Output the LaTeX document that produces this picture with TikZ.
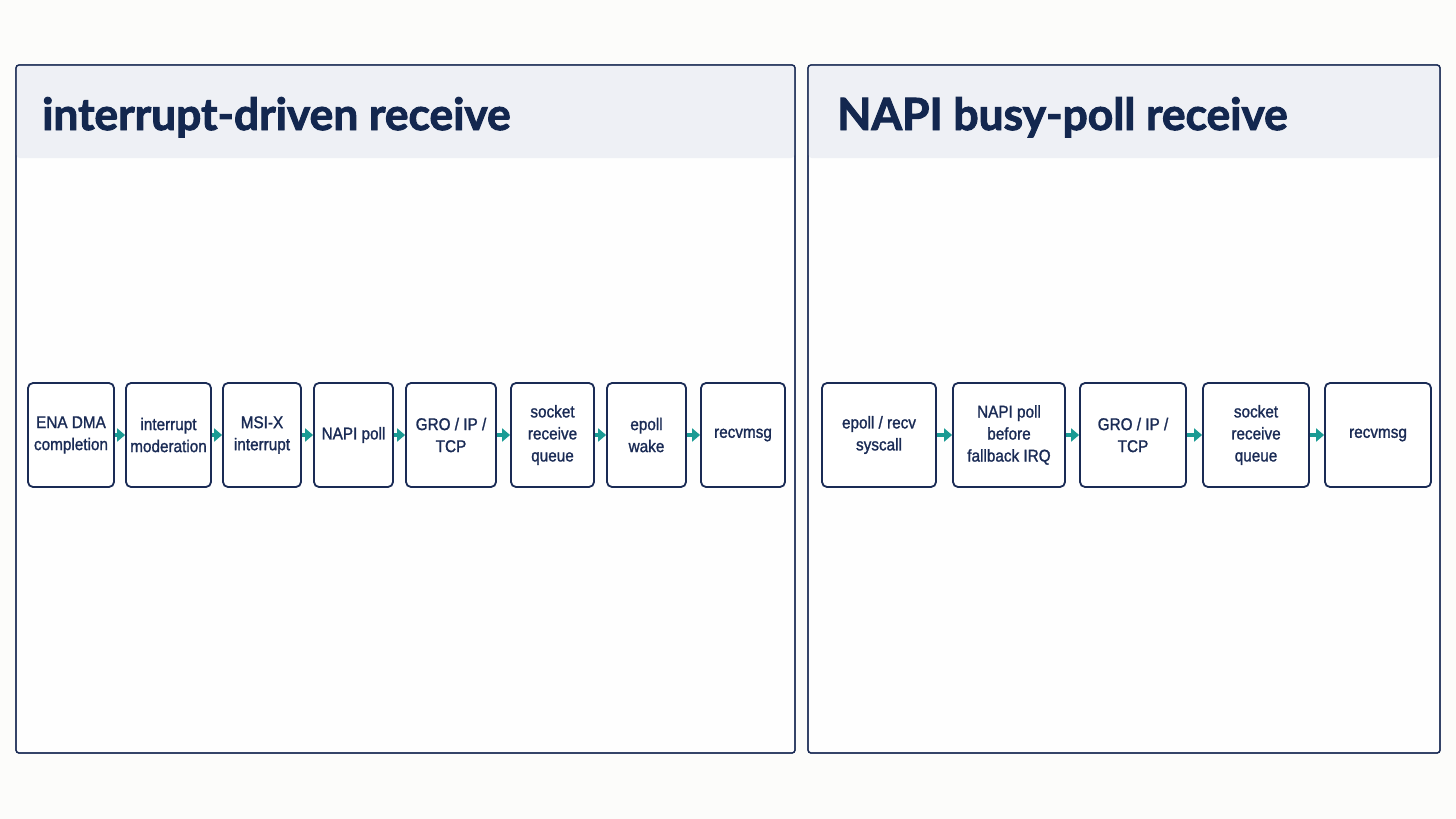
\documentclass[tikz,border=0pt]{standalone}
\usepackage{fontspec}
\setmainfont{Liberation Sans}[FakeBold=1.3, FakeStretch=0.9]
\newfontfamily\titlefont{Lato}[BoldFeatures={FakeBold=2.2}]
\usetikzlibrary{arrows.meta}
\definecolor{bgc}{HTML}{FCFCFA}
\definecolor{panelc}{HTML}{FEFEFE}
\definecolor{headc}{HTML}{EEF0F5}
\definecolor{navy}{HTML}{1A2B55}
\definecolor{titlec}{HTML}{13274F}
\definecolor{teal}{HTML}{1A9B94}
\tikzset{
  panel/.style={draw=navy, line width=1.3pt, fill=panelc, rounded corners=3pt},
  head/.style={fill=headc},
  titletext/.style={anchor=base west, inner sep=0pt, text=titlec, font=\titlefont\bfseries\fontsize{44.3}{50}\selectfont},
  box/.style={draw=navy, line width=1.8pt, rounded corners=5pt, fill=white, minimum height=104pt, align=center, inner sep=0pt, text=navy, font=\fontsize{17}{22}\selectfont},
  flow/.style={draw=teal, line width=4.5pt, -{Triangle[length=8pt,width=13pt]}, fill=teal}
}
\begin{document}
\begin{tikzpicture}[x=1pt,y=-1pt]
\fill[bgc] (0,0) rectangle (1456,819);
\useasboundingbox (0,0) rectangle (1456,819);
% panels
\path[panel] (16,65) rectangle (795,753);
\path[panel] (808,65) rectangle (1440,753);
\fill[head, rounded corners=3pt] (16.7,65.7) -- (794.3,65.7) -- (794.3,158) -- (16.7,158) -- cycle;
\fill[head, rounded corners=3pt] (808.7,65.7) -- (1439.3,65.7) -- (1439.3,158) -- (808.7,158) -- cycle;
\draw[navy, line width=1.3pt, rounded corners=3pt] (16,65) rectangle (795,753);
\draw[navy, line width=1.3pt, rounded corners=3pt] (808,65) rectangle (1440,753);
\node[titletext] (t1) at (42,130) {interrupt-driven receive};
\node[titletext] (t2) at (837,130) {NAPI busy-poll receive};
% left boxes
\node[box, minimum width=86pt] (a1) at (71,435) {ENA DMA\\completion};
\node[box, minimum width=85pt] (a2) at (168.5,435) {interrupt\\moderation};
\node[box, minimum width=78pt] (a3) at (262,435) {MSI-X\\interrupt};
\node[box, minimum width=79pt] (a4) at (353.5,435) {NAPI poll};
\node[box, minimum width=90pt] (a5) at (451,435) {GRO / IP /\\TCP};
\node[box, minimum width=83pt] (a6) at (552.5,435) {socket\\receive\\queue};
\node[box, minimum width=79pt] (a7) at (646.5,435) {epoll\\wake};
\node[box, minimum width=84pt] (a8) at (743,435) {recvmsg};
% right boxes
\node[box, minimum width=114pt] (b1) at (879,435) {epoll / recv\\syscall};
\node[box, minimum width=112pt] (b2) at (1009,435) {NAPI poll\\before\\fallback IRQ};
\node[box, minimum width=106pt] (b3) at (1133,435) {GRO / IP /\\TCP};
\node[box, minimum width=106pt] (b4) at (1256,435) {socket\\receive\\queue};
\node[box, minimum width=106pt] (b5) at (1378,435) {recvmsg};
% arrows
\foreach \p/\q in {a1/a2,a2/a3,a3/a4,a4/a5,a5/a6,a6/a7,a7/a8,b1/b2,b2/b3,b3/b4,b4/b5}
  \draw[flow] (\p) -- (\q);
\end{tikzpicture}
\end{document}
